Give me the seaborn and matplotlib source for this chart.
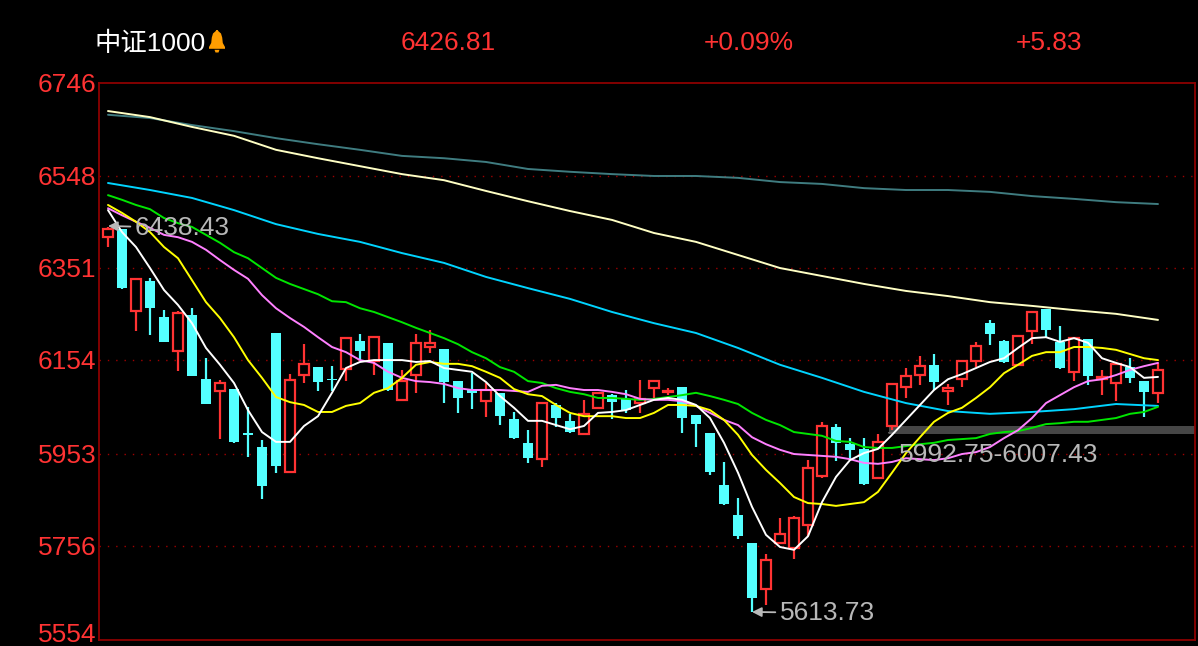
import numpy as np
import matplotlib
matplotlib.use("Agg")
import matplotlib.pyplot as plt
from matplotlib.patches import Polygon, Circle
import seaborn as sns

title_name = "中证1000"
last_price = "6426.81"
pct_change = "+0.09%"
abs_change = "+5.83"
y_ticks = [6746, 6548, 6351, 6154, 5953, 5756, 5554]

rising = [1,0,1,0,0,1,0,0,1,0,0,0,0,1,1,0,0,1,0,1,0,1,1,1,0,0,0,1,0,0,0,1,0,0,1,1,0,0,1,1,1,
          0,0,0,0,0,0,1,1,1,1,1,0,0,0,1,1,1,1,0,1,1,1,0,0,1,1,0,0,1,0,1,1,0,0,1]
body_top = [6433,6433,6326,6322,6245,6254,6250,6112,6104,6091,5997,5967,6211,6110,6145,6138,6112,6200,6194,6202,6190,
            6108,6190,6190,6177,6108,6089,6089,6083,6027,5976,6061,6057,6023,6038,6083,6078,6070,6070,6108,6086,
            6095,6035,5997,5886,5821,5762,5725,5781,5815,5922,6012,6010,5973,5963,5978,
            6102,6119,6140,6142,6093,6151,6183,6232,6194,6205,6256,6262,6192,6200,6198,6117,6145,6138,6108,6132]
body_bot = [6416,6307,6258,6264,6192,6172,6119,6059,6087,5978,5993,5884,5926,5914,6121,6106,6110,6134,6172,6151,6089,
            6068,6121,6181,6106,6072,6083,6065,6033,5986,5943,5941,6029,5999,5995,6051,6063,6046,6061,6093,6084,
            6029,6016,5914,5845,5776,5644,5663,5762,5751,5800,5905,5976,5961,5888,5901,
            6012,6095,6121,6106,6087,6112,6151,6209,6149,6142,6215,6217,6136,6127,6119,6112,6104,6115,6085,6083]
highs = [6438,6434,6326,6329,6260,6258,6265,6157,6110,6091,6053,5982,6211,6123,6187,6138,6140,6200,6209,6205,6190,
         6132,6209,6217,6177,6108,6125,6104,6083,6042,6003,6061,6061,6038,6068,6085,6080,6089,6110,6110,6093,
         6095,6035,5997,5935,5858,5762,5738,5815,5819,5939,6021,6016,5986,5986,5995,
         6102,6136,6162,6166,6102,6151,6192,6239,6196,6205,6256,6262,6226,6202,6198,6132,6147,6157,6108,6147]
lows = [6395,6306,6215,6207,6192,6130,6119,6059,5984,5976,5946,5856,5911,5914,6104,6087,6087,6108,6153,6121,6087,
        6065,6083,6168,6061,6040,6048,6031,6014,5984,5933,5924,6010,5997,5995,6051,6027,6040,6040,6072,6078,
        5997,5967,5907,5843,5770,5614,5629,5762,5727,5776,5901,5937,5941,5886,5899,
        6003,6072,6100,6089,6057,6095,6138,6185,6147,6140,6187,6202,6134,6108,6100,6078,6065,6104,6031,6061]

ma_white = [6474,6427,6395,6350,6303,6271,6232,6179,6143,6104,6046,5999,5978,5978,6012,6033,6083,6136,6149,6153,6153,
            6153,6149,6151,6136,6132,6128,6106,6076,6051,6023,6023,6014,6005,6012,6040,6042,6046,6057,6068,6072,
            6068,6057,6029,5976,5912,5839,5779,5753,5747,5776,5849,5903,5939,5954,5963,
            5993,6025,6057,6089,6112,6123,6136,6149,6157,6179,6200,6202,6192,6200,6190,6157,6147,6138,6115,6117]
ma_yellow = [6485,6468,6449,6427,6395,6371,6324,6277,6243,6202,6153,6115,6074,6063,6057,6042,6042,6055,6061,6083,6093,
             6115,6143,6149,6145,6145,6140,6128,6115,6091,6080,6076,6057,6040,6033,6033,6033,6029,6029,6040,6057,
             6057,6055,6046,6025,5993,5950,5918,5890,5860,5847,5845,5841,5845,5849,5871,
             5912,5954,5988,6021,6040,6051,6072,6095,6125,6143,6162,6170,6170,6181,6181,6179,6175,6166,6157,6153]
ma_pink = [6478,6463,6449,6436,6421,6416,6406,6389,6367,6346,6327,6292,6264,6243,6224,6202,6181,6170,6153,6147,6128,
           6115,6108,6106,6102,6093,6089,6089,6089,6087,6085,6098,6100,6093,6089,6089,6085,6080,6070,6068,6068,
           6065,6055,6040,6025,6014,5988,5973,5961,5952,5950,5948,5946,5941,5933,5931,
           5935,5943,5941,5939,5943,5952,5956,5967,5986,6003,6029,6061,6078,6095,6108,6112,6121,6132,6140,6147]
ma_green = [6506,6496,6485,6476,6457,6446,6438,6421,6404,6384,6371,6350,6329,6316,6305,6294,6279,6277,6264,6256,6245,
            6234,6222,6211,6200,6187,6170,6157,6138,6128,6108,6104,6093,6085,6080,6072,6072,6070,6068,6070,6074,
            6078,6083,6076,6068,6059,6040,6025,6014,5999,5995,5991,5980,5978,5967,5965,
            5965,5969,5973,5976,5982,5984,5986,5995,5999,6001,6008,6016,6018,6021,6021,6025,6029,6038,6042,6053]
slow_index = [0,3,6,9,12,15,18,21,24,27,30,33,36,39,42,45,48,51,54,57,60,63,66,69,72,75]
ma_cyan = [6532,6517,6500,6474,6444,6423,6406,6382,6361,6331,6307,6284,6256,6232,6211,6179,6143,6115,6085,6061,6044,6038,6042,6048,6059,6055]
ma_cream = [6686,6673,6652,6633,6603,6585,6568,6551,6538,6515,6493,6472,6453,6425,6406,6378,6350,6333,6316,6301,6290,6277,6269,6260,6252,6239]
ma_teal = [6678,6671,6656,6643,6628,6615,6603,6590,6585,6577,6562,6556,6551,6547,6547,6543,6534,6530,6521,6517,6517,6513,6504,6498,6491,6487]

band_low, band_high = 5995, 6012
band_label = "5992.75-6007.43"
high_mark, high_label = 6440, "6438.43"
low_mark, low_label = 5614, "5613.73"

RED = "#ff3333"
CYAN = "#54ffff"
FRAME = "#8c0000"
GREY = "#b8b8b8"
FONT = ["Liberation Sans", "Noto Sans CJK SC"]
FS = 19

sns.set_theme(style="dark")
plt.rcParams["font.family"] = FONT
W, H = 1198, 646
fig = plt.figure(figsize=(W / 100, H / 100), dpi=100, facecolor="black")
ax = fig.add_axes([99 / W, 1 - 640 / H, (1195 - 99) / W, (640 - 83) / H], facecolor="black")

idx = np.arange(len(body_top))
top, bot = np.array(body_top, float), np.array(body_bot, float)
hi, lo = np.array(highs, float), np.array(lows, float)
up = np.array(rising, bool)

ax.axhspan(band_low, band_high, xmin=(889 - 99) / (1195 - 99), xmax=1, color="#464646", lw=0, zorder=1.5)
ax.add_patch(Circle((56.0, (band_low + band_high) / 2 - 6), 0.25, color="#5a5a5a", zorder=1.6))

ax.vlines(idx[up], lo[up], hi[up], color=RED, lw=1.6, zorder=2)
ax.vlines(idx[~up], lo[~up], hi[~up], color=CYAN, lw=1.6, zorder=2)
ax.bar(idx[~up], (top - bot)[~up], bottom=bot[~up], width=0.78, color=CYAN, lw=0, zorder=3)
ax.bar(idx[up], (top - bot)[up], bottom=bot[up], width=0.66, facecolor="black", edgecolor=RED, lw=1.6, zorder=3)

slow = np.array(slow_index)
for xs, ys, col, z in [(slow, ma_teal, "#3f7c80", 4), (slow, ma_cream, "#ffffc4", 4.1), (slow, ma_cyan, "#00d4ff", 4.2),
                       (idx, ma_green, "#00e600", 4.3), (idx, ma_pink, "#ff80ff", 4.4),
                       (idx, ma_yellow, "#ffff00", 4.5), (idx, ma_white, "#ffffff", 4.6)]:
    sns.lineplot(x=xs, y=ys, color=col, lw=1.4, ax=ax, errorbar=None, legend=False, zorder=z)

ax.set_xlim((99 - 108) / 14, (1195 - 108) / 14)
ax.set_ylim(y_ticks[-1], y_ticks[0])
ax.set_xticks([])
ax.set_yticks(y_ticks)
ax.set_yticklabels([str(v) for v in y_ticks[:-1]] + [""], color=RED, fontsize=FS)
ax.tick_params(axis="y", length=0, pad=2.0)
ax.annotate(str(y_ticks[-1]), xy=(0, y_ticks[-1]), xycoords=("axes fraction", "data"), xytext=(-2.0, 3.6),
            textcoords="offset points", color=RED, fontsize=FS, ha="right", va="center", annotation_clip=False)
ax.grid(False)
for v in y_ticks[1:-1]:
    ax.axhline(v, color="#a00000", lw=1, ls=(0, (1, 5)), zorder=1)
for s in ax.spines.values():
    s.set_visible(True)
    s.set_color(FRAME)
    s.set_linewidth(1.3)

arrow = dict(arrowstyle="-|>", color=GREY, lw=1.3, shrinkA=1, shrinkB=0, mutation_scale=14)
ax.annotate(high_label, xy=(0, high_mark), xytext=(1.93, high_mark - 4), color=GREY, fontsize=FS,
            va="center", ha="left", arrowprops=arrow, zorder=6)
ax.annotate(low_label, xy=(46, low_mark), xytext=(48.0, low_mark - 2), color=GREY, fontsize=FS,
            va="center", ha="left", arrowprops=arrow, zorder=6)
ax.text(56.5, 5950, band_label, color=GREY, fontsize=FS, va="center", ha="left", zorder=6)

yh = 1 - 43.5 / H
fig.text(94 / W, yh, title_name, color="white", fontsize=FS, va="center", ha="left")
fig.text(448 / W, yh, last_price, color=RED, fontsize=FS, va="center", ha="center")
fig.text(749 / W, yh, pct_change, color=RED, fontsize=FS, va="center", ha="center")
fig.text(1049 / W, yh, abs_change, color=RED, fontsize=FS, va="center", ha="center")

bell = fig.add_axes([207 / W, 1 - 54 / H, 20 / W, 26 / H])
bell.axis("off")
bell.set_xlim(0, 20)
bell.set_ylim(26, 0)
bell.add_patch(Polygon([(8.8, 3), (9.2, 2), (10.8, 2), (11.2, 3), (14, 5.5), (15.2, 9.5), (15.8, 15), (18, 19), (18, 20.8),
                        (2, 20.8), (2, 19), (4.2, 15), (4.8, 9.5), (6, 5.5)], color="#ff9d00", lw=0))
bell.add_patch(Polygon([(7.5, 21.8), (12.5, 21.8), (11.5, 24.5), (8.5, 24.5)], color="#ff9d00", lw=0))

fig.savefig("out.png", dpi=100, facecolor="black")
